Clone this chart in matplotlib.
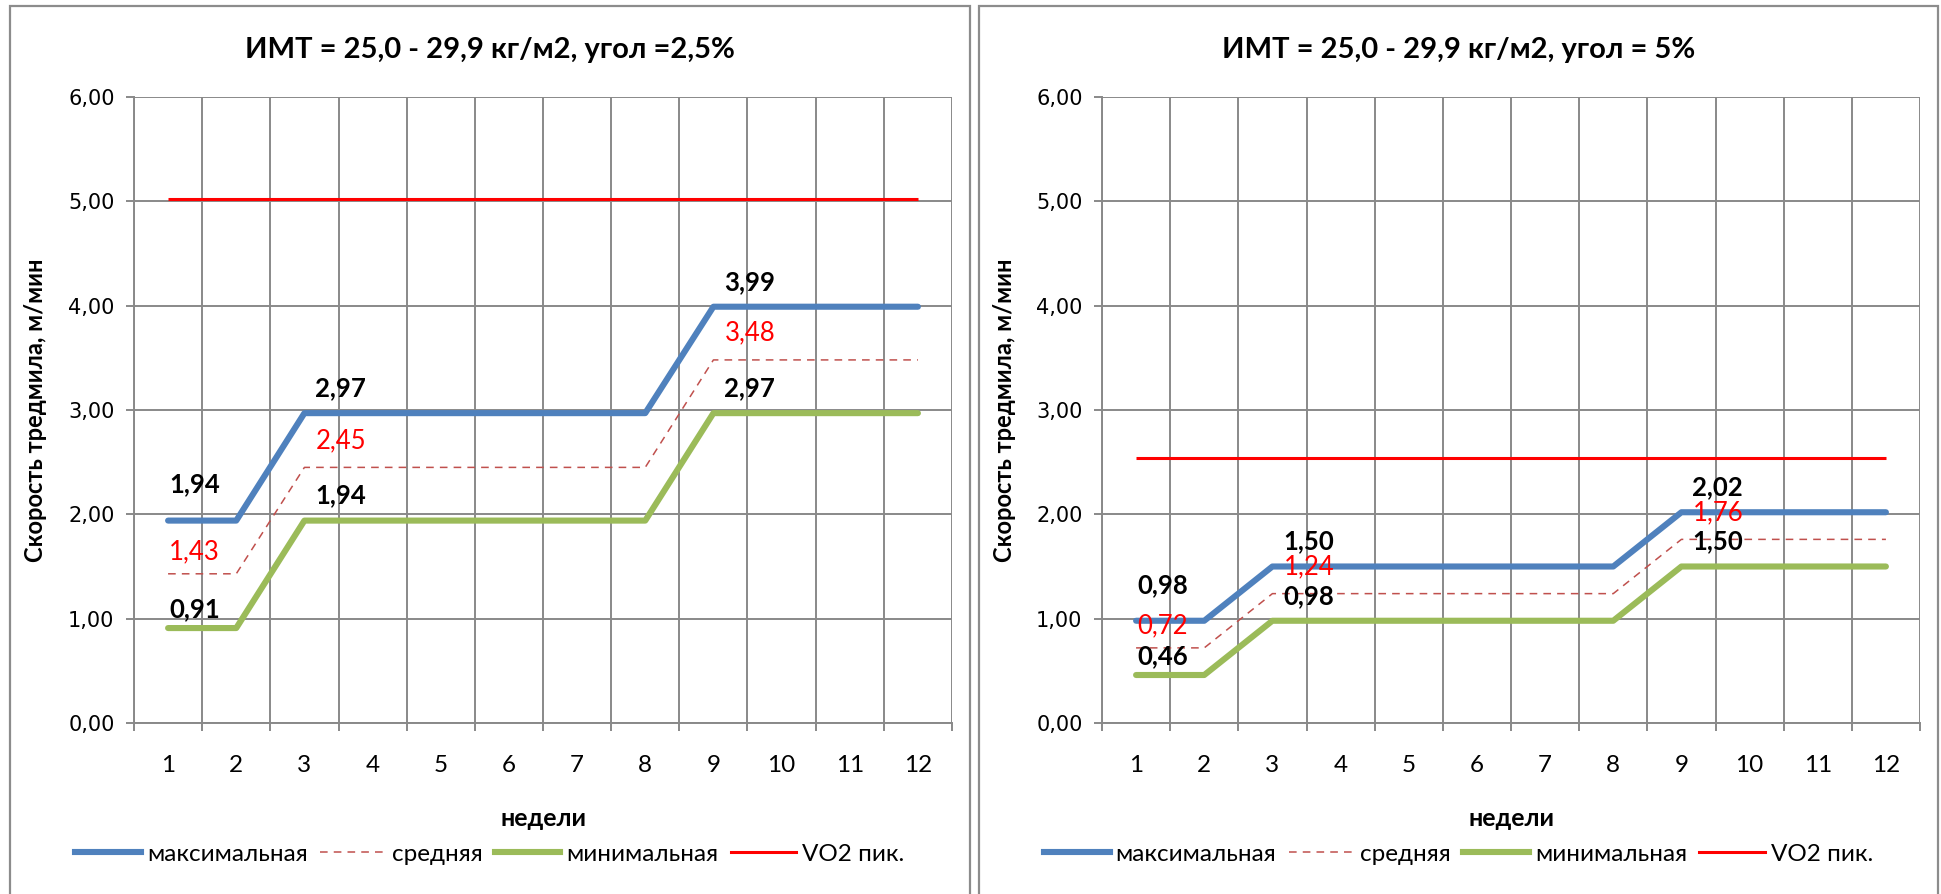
import matplotlib
matplotlib.use("Agg")
import matplotlib.pyplot as plt
from matplotlib.patches import Rectangle
from matplotlib.lines import Line2D

# weeks and treadmill speeds
weeks = list(range(1, 13))

max_25 = [1.94, 1.94] + [2.97] * 6 + [3.99] * 4
mean_25 = [1.43, 1.43] + [2.45] * 6 + [3.48] * 4
min_25 = [0.91, 0.91] + [1.94] * 6 + [2.97] * 4
vo2_25 = [5.02] * 12

max_5 = [0.98, 0.98] + [1.50] * 6 + [2.02] * 4
mean_5 = [0.72, 0.72] + [1.24] * 6 + [1.76] * 4
min_5 = [0.46, 0.46] + [0.98] * 6 + [1.50] * 4
vo2_5 = [2.54] * 12

titles = ["ИМТ = 25,0 - 29,9 кг/м2, угол =2,5%", "ИМТ = 25,0 - 29,9 кг/м2, угол = 5%"]
series_names = ["максимальная", "средняя", "минимальная", "VO2 пик."]
label_weeks = [1, 3, 9]

BLUE = "#4F81BD"
GREEN = "#9BBB59"
DASH = "#C0504D"
RED = "#FF0000"
GRID = "#898989"

TXT = ["Lato", "DejaVu Sans"]
NUM = ["DejaVu Sans"]

W, H = 1941, 894
fig = plt.figure(figsize=(W / 100, H / 100), dpi=100)

def px(x, y):
    return x / W, 1 - y / H

def fmt(v):
    return f"{v:.2f}".replace(".", ",")

def draw_panel(x0, box, title, mx, mn_, mi, vo2):
    # chart frame
    fig.patches.append(Rectangle(px(box[0], 900), (box[1] - box[0]) / W, (900 - 6) / H,
                                 transform=fig.transFigure, fill=False,
                                 edgecolor="#8C8C8C", lw=1.6))
    ax = fig.add_axes([x0 / W, 1 - 723 / H, 818 / W, 626 / H])
    ax.set_xlim(0.5, 12.5)
    ax.set_ylim(0, 6)

    ax.plot(weeks, vo2, color=RED, lw=2.2, solid_capstyle="butt")
    ax.plot(weeks, mn_, color=DASH, lw=1.1, ls=(0, (5, 4)))
    ax.plot(weeks, mi, color=GREEN, lw=4.4, solid_capstyle="round")
    ax.plot(weeks, mx, color=BLUE, lw=4.4, solid_capstyle="round")

    # value labels
    for w in label_weeks:
        i = weeks.index(w)
        first = i == 0
        dx = 1 if first else 11
        for vals, col, wt, dy in [(mx, "black", "bold", 36 if first else 25),
                                  (mn_, RED, "normal", 22 if first else 27),
                                  (mi, "black", "bold", 19 if first else 25)]:
            ax.annotate(fmt(vals[i]), (w, vals[i]), xytext=(dx, dy),
                        textcoords="offset pixels", ha="left", va="center",
                        color=col, fontweight=wt, fontsize=18.5, family=TXT)

    # axes, ticks, grid
    ax.set_xticks([w + 0.5 for w in [0] + weeks])
    ax.set_xticklabels([])
    ax.set_xticks(weeks, minor=True)
    ax.set_xticklabels([str(w) for w in weeks], minor=True, fontsize=17.5, family=TXT)
    ax.tick_params(axis="x", which="major", length=6, width=1.4, color=GRID, direction="out")
    ax.tick_params(axis="x", which="minor", length=0, pad=23)
    ax.set_yticks(range(7))
    ax.set_yticklabels([fmt(v) for v in range(7)], fontsize=15, family=NUM)
    ax.tick_params(axis="y", length=6, width=1.4, color=GRID, pad=8)
    ax.grid(True, which="major", color=GRID, lw=1.4)
    ax.set_axisbelow(True)
    for s in ["top", "right"]:
        ax.spines[s].set_visible(False)
    for s in ["left", "bottom"]:
        ax.spines[s].set_color(GRID)
        ax.spines[s].set_linewidth(1.4)

    ax.set_xlabel("недели", fontsize=18, fontweight="bold", family=TXT)
    ax.set_ylabel("Скорость тредмила, м/мин", fontsize=17, fontweight="bold", family=TXT)
    ax.yaxis.set_label_coords((box[0] + 26 - x0) / 818, 0.5)
    ax.xaxis.set_label_coords(0.5, -(818 - 723) / 626)
    ax.xaxis.label.set_va("center")
    ax.yaxis.label.set_va("center")

    cx = (box[0] + box[1]) / 2
    fig.text(*px(cx, 50), title, ha="center", va="center", fontsize=21,
             fontweight="bold", family=TXT)

    handles = [Line2D([], [], color=BLUE, lw=4.4),
               Line2D([], [], color=DASH, lw=1.1, ls=(0, (5, 4))),
               Line2D([], [], color=GREEN, lw=4.4),
               Line2D([], [], color=RED, lw=2.2)]
    fig.legend(handles, series_names, loc="center", bbox_to_anchor=px(cx, 854),
               ncol=4, frameon=False, prop={"family": TXT, "size": 17.5},
               handlelength=2.7, columnspacing=0.5, handletextpad=0.25)

draw_panel(134, (10, 970), titles[0], max_25, mean_25, min_25, vo2_25)
draw_panel(1102, (979, 1938), titles[1], max_5, mean_5, min_5, vo2_5)

fig.savefig("out.png", dpi=100)
